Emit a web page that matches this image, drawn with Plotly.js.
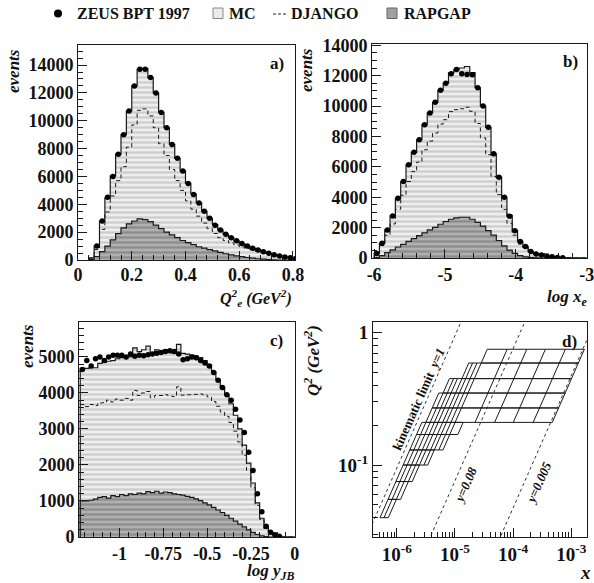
<!DOCTYPE html>
<html><head><meta charset="utf-8">
<script src="https://cdn.plot.ly/plotly-3.0.1.min.js"></script>
<style>html,body{margin:0;padding:0;background:#fff}#chart{width:594px;height:583px}</style>
</head><body><div id="chart"></div>
<script>
// ---------- panel a : Q2_e (GeV^2), bins of 0.02 starting at 0.04 ----------
const aBinStart = 0.04, aBinWidth = 0.02;
const aMC     = [150,1000,2800,4450,6050,7600,9000,10700,12500,13700,13750,13100,12000,10600,9500,8300,7300,6400,5500,4750,4100,3500,3000,2550,2150,1850,1600,1380,1180,1000,850,720,600,480,380,290,220,160,110];
const aRapgap = [20,250,600,1000,1450,1900,2300,2600,2800,2950,2900,2750,2500,2250,2000,1800,1600,1400,1250,1100,950,850,750,650,550,450,370,300,240,180,130,90,60,30,10,0,0,0,0];
const aDjango = [130,750,2200,3450,4600,5700,6700,8100,9700,10750,10850,10350,9500,8350,7500,6500,5700,5000,4250,3650,3150,2650,2250,1900,1600,1400,1230,1080,940,820,720,630,540,450,370,290,220,160,110];
const aData   = [null,1000,2800,4500,6000,7600,9000,10700,12500,13700,13700,13100,12000,10600,9500,8300,7300,6400,5500,4700,4100,3500,3000,2500,2150,1850,1600,1380,1180,1000,850,720,600,480,380,290,220,160,110];
const aYTicks = [0,2000,4000,6000,8000,10000,12000,14000];
const aXTicks = [0,0.2,0.4,0.6,0.8];
const aXTickText = ['0','0.2','0.4','0.6','0.8'];

// ---------- panel b : log x_e, bins of 0.075 starting at -6 ----------
const bBinStart = -6.0, bBinWidth = 0.075;
const bMC     = [300,970,1850,2770,3930,5030,6130,6950,7780,8770,9540,10240,11030,11500,12180,12400,12500,12600,12200,11200,10000,8600,6860,5320,4000,2800,1800,1080,750,420,260,200,130,90,40,20,10,0,0,0];
const bRapgap = [20,150,350,530,725,900,1100,1270,1470,1650,1850,2020,2220,2400,2550,2640,2680,2680,2550,2350,2100,1800,1500,1150,800,520,300,160,80,30,10,0,0,0,0,0,0,0,0,0];
const bDjango = [280,820,1500,2240,3205,4130,5030,5680,6310,7120,7690,8220,8810,9100,9630,9760,9820,9920,9650,8850,7900,6800,5360,4170,3200,2280,1500,920,670,390,250,200,130,90,40,20,10,0,0,0];
const bData   = [300,970,1850,2770,3930,5030,6130,6950,7780,8770,9540,10240,11030,11500,12130,12400,12130,12070,12050,11200,10000,8600,6860,5320,4000,2750,1800,1080,750,420,260,200,130,90,40,20,null,null,null,null];
const bYTicks = [0,2000,4000,6000,8000,10000,12000,14000];
const bXTicks = [-6,-5,-4,-3];
const bXTickText = ['-6','-5','-4','-3'];

// ---------- panel c : log y_JB, bins of 0.025 starting at -1.225 ----------
const cBinStart = -1.225, cBinWidth = 0.025;
const cMC     = [4680,4680,4700,4700,4820,4850,4880,4900,4950,4980,5000,5000,5250,5150,5200,5300,5100,5200,5150,5200,5150,5100,5350,5100,5080,5050,5020,4980,4900,4780,4580,4380,4150,3950,3700,3380,3000,2550,2050,1500,950,520,250,120,60,25,0,0,0];
const cRapgap = [1000,1000,1020,1050,1100,1120,1080,1150,1120,1180,1150,1200,1180,1220,1200,1260,1230,1270,1220,1250,1230,1200,1180,1160,1130,1100,1060,1010,950,890,820,750,680,600,520,440,360,280,200,130,70,30,10,0,0,0,0,0,0];
const cDjango = [3680,3620,3680,3650,3720,3730,3800,3750,3830,3800,3850,3800,4070,3930,4000,4040,3870,3930,3930,3950,3920,3900,4170,3940,3950,3950,3960,3970,3950,3890,3760,3630,3470,3350,3180,2940,2640,2270,1850,1370,880,490,240,120,60,25,0,0,0];
const cData   = [4650,4900,4750,4950,5000,4900,5000,5050,5050,5050,5000,5080,5020,5050,5030,5060,5080,5100,5120,5150,5170,5150,5080,4920,4950,5000,4980,4900,4830,4750,4570,4350,4150,3950,3800,3550,3250,2900,2350,1850,1200,700,300,130,60,20,null,null,null];
const cYTicks = [0,1000,2000,3000,4000,5000];
const cXTicks = [-1,-0.75,-0.5,-0.25,0];
const cXTickText = ['-1','-0.75','-0.5','-0.25','0'];

// ---------- panel d : bins in (x, Q2); Q2 rows and y-bin edges ----------
const dQ2Rows = [[0.04,0.055],[0.055,0.075],[0.075,0.10],[0.10,0.13],[0.13,0.17],[0.17,0.21],[0.21,0.27],[0.27,0.35],[0.35,0.45],[0.45,0.59],[0.59,0.75]];
const dYEdges = [
  [0.82,0.70,0.59],
  [0.82,0.70,0.59,0.50],
  [0.82,0.70,0.59,0.50,0.43],
  [0.82,0.70,0.59,0.50,0.43,0.36,0.31],
  [0.82,0.70,0.59,0.50,0.43,0.36,0.31,0.26,0.22],
  [0.82,0.70,0.59,0.50,0.43,0.36,0.31,0.26,0.22,0.16],
  [0.70,0.59,0.50,0.43,0.36,0.31,0.26,0.22,0.10,0.046,0.022,0.01,0.0047],
  [0.70,0.59,0.50,0.43,0.36,0.31,0.26,0.22,0.10,0.046,0.022,0.01,0.0047],
  [0.59,0.50,0.43,0.36,0.31,0.26,0.22,0.10,0.046,0.022,0.01,0.0047],
  [0.36,0.31,0.26,0.22,0.10,0.046,0.022,0.01,0.0047],
  [0.22,0.10,0.046,0.022,0.01,0.0047]
];
const dRefY = [1, 0.08, 0.005];
const sBeam = 95000;            // Q2 = s x y
const dXTicks = [1e-6,1e-5,1e-4,1e-3];
const dXTickText = ['10<sup>-6</sup>','10<sup>-5</sup>','10<sup>-4</sup>','10<sup>-3</sup>'];
const dYTicks = [0.1, 1];
const dYTickText = ['10<sup>-1</sup>','1'];

// ---------- helpers ----------
const W = 594, H = 583;
const px = v => v / W, py = v => 1 - v / H;
const FONT = 'Liberation Serif, Times New Roman, serif';

function edges(start, w, n) { const e = []; for (let i = 0; i <= n; i++) e.push(+(start + i * w).toFixed(5)); return e; }
function stepClosed(start, w, vals) {
  const e = edges(start, w, vals.length);
  const x = [e[0]], y = [0];
  vals.forEach((v, i) => { x.push(e[i]); y.push(v); });
  x.push(e[vals.length]); y.push(vals[vals.length - 1]);
  x.push(e[vals.length]); y.push(0);
  return {x, y};
}
function stepOpen(start, w, vals) {
  const e = edges(start, w, vals.length);
  const x = [], y = [];
  vals.forEach((v, i) => { x.push(e[i]); y.push(v); });
  x.push(e[vals.length]); y.push(vals[vals.length - 1]);
  return {x, y};
}
function histTraces(start, w, mc, dj, rap, dat, xa, ya) {
  const m = stepClosed(start, w, mc), r = stepClosed(start, w, rap), d = stepOpen(start, w, dj);
  const cx = dat.map((v, i) => start + w * (i + 0.5));
  return [
    {type:'scatter', mode:'lines', x:m.x, y:m.y, xaxis:xa, yaxis:ya, fill:'tozeroy',
     fillcolor:'#e6e6e6', fillpattern:{shape:'-', bgcolor:'#eeeeee', fgcolor:'#cdcdcd', size:5, solidity:0.45},
     line:{shape:'hv', color:'#1a1a1a', width:1.2}, hoverinfo:'skip'},
    {type:'scatter', mode:'lines', x:r.x, y:r.y, xaxis:xa, yaxis:ya, fill:'tozeroy',
     fillcolor:'#a9a9a9', fillpattern:{shape:'-', bgcolor:'#b0b0b0', fgcolor:'#8c8c8c', size:5, solidity:0.45},
     line:{shape:'hv', color:'#1a1a1a', width:1.2}, hoverinfo:'skip'},
    {type:'scatter', mode:'lines', x:d.x, y:d.y, xaxis:xa, yaxis:ya,
     line:{shape:'hv', color:'#1a1a1a', width:1, dash:'4px,3px'}, hoverinfo:'skip'},
    {type:'scatter', mode:'markers', x:cx, y:dat, xaxis:xa, yaxis:ya,
     marker:{color:'#000', size:5.5, symbol:'circle'}, hoverinfo:'skip'}
  ];
}

let traces = [];
traces = traces.concat(histTraces(aBinStart, aBinWidth, aMC, aDjango, aRapgap, aData, 'x', 'y'));
traces = traces.concat(histTraces(bBinStart, bBinWidth, bMC, bDjango, bRapgap, bData, 'x2', 'y2'));
traces = traces.concat(histTraces(cBinStart, cBinWidth, cMC, cDjango, cRapgap, cData, 'x3', 'y3'));

// panel d grid
const gx = [], gy = [];
dQ2Rows.forEach((row, r) => {
  const ql = row[0], qh = row[1], ys = dYEdges[r];
  const yFirst = ys[0], yLast = ys[ys.length - 1];
  [ql, qh].forEach(q => { gx.push(q / (sBeam * yFirst), q / (sBeam * yLast), null); gy.push(q, q, null); });
  ys.forEach(yv => { gx.push(ql / (sBeam * yv), qh / (sBeam * yv), null); gy.push(ql, qh, null); });
});
traces.push({type:'scatter', mode:'lines', x:gx, y:gy, xaxis:'x4', yaxis:'y4',
  line:{color:'#1a1a1a', width:1}, connectgaps:false, hoverinfo:'skip'});
dRefY.forEach(yv => {
  const qs = [0.02, 1.5];
  traces.push({type:'scatter', mode:'lines', x:qs.map(q => q / (sBeam * yv)), y:qs, xaxis:'x4', yaxis:'y4',
    line:{color:'#333', width:1, dash:'dot'}, hoverinfo:'skip'});
});

// ---------- layout ----------
const tickFont = {family:FONT, size:18, color:'#111', weight:'bold'};
function baseAxis(extra) {
  return Object.assign({
    showline:true, mirror:true, linecolor:'#1a1a1a', linewidth:1, showgrid:false, zeroline:false,
    ticks:'inside', ticklen:9, tickwidth:1, tickcolor:'#1a1a1a', tickfont:tickFont, fixedrange:true,
    ticklabeloverflow:'allow'
  }, extra);
}
function minorLin(tick0, dtick) { return {ticks:'inside', ticklen:5, tickwidth:1, tickcolor:'#1a1a1a', tickmode:'linear', tick0:tick0, dtick:dtick}; }
function decadeMinors(lo, hi) { const v = []; for (let p = lo; p <= hi; p++) for (let k = 2; k <= 9; k++) v.push(k * Math.pow(10, p)); return v; }
const asText = arr => arr.map(v => String(v));

const layout = {
  width:W, height:H, margin:{l:0, r:0, t:0, b:0}, showlegend:false,
  paper_bgcolor:'#fff', plot_bgcolor:'#fff',
  xaxis: baseAxis({domain:[px(78), px(295)], range:[0, 0.8075], anchor:'y', ticklabelstandoff:-2,
    tickmode:'array', tickvals:aXTicks, ticktext:aXTickText, minor:minorLin(0, 0.04)}),
  yaxis: baseAxis({domain:[py(260), py(45)], range:[0, 15440], anchor:'x',
    tickmode:'array', tickvals:aYTicks, ticktext:asText(aYTicks), minor:minorLin(0, 500)}),
  xaxis2: baseAxis({domain:[px(372), px(587)], range:[-6.03, -2.995], anchor:'y2',
    tickmode:'array', tickvals:bXTicks, ticktext:bXTickText, minor:minorLin(0, 0.2)}),
  yaxis2: baseAxis({domain:[py(258), py(44)], range:[0, 14080], anchor:'x2',
    tickmode:'array', tickvals:bYTicks, ticktext:asText(bYTicks), minor:minorLin(0, 500)}),
  xaxis3: baseAxis({domain:[px(79), px(295)], range:[-1.232, 0.002], anchor:'y3',
    tickmode:'array', tickvals:cXTicks, ticktext:cXTickText, minor:minorLin(0, 0.05)}),
  yaxis3: baseAxis({domain:[py(537), py(322)], range:[0, 5970], anchor:'x3',
    tickmode:'array', tickvals:cYTicks, ticktext:asText(cYTicks), minor:minorLin(0, 200)}),
  xaxis4: baseAxis({domain:[px(373), px(587)], type:'log', range:[-6.41, -2.73], anchor:'y4',
    tickmode:'array', tickvals:dXTicks, ticktext:dXTickText, tickfont:{family:FONT, size:19, color:'#111', weight:'bold'},
    minor:{ticks:'inside', ticklen:5, tickwidth:1, tickcolor:'#1a1a1a', tickmode:'array', tickvals:decadeMinors(-7, -3)}}),
  yaxis4: baseAxis({domain:[py(537), py(322)], type:'log', range:[-1.544, 0.081], anchor:'x4',
    tickmode:'array', tickvals:dYTicks, ticktext:dYTickText, tickfont:{family:FONT, size:19, color:'#111', weight:'bold'},
    minor:{ticks:'inside', ticklen:5, tickwidth:1, tickcolor:'#1a1a1a', tickmode:'array', tickvals:decadeMinors(-2, 0)}}),
  shapes: [
    {type:'circle', xref:'paper', yref:'paper', x0:px(54), x1:px(62), y0:py(17.5), y1:py(9.5), fillcolor:'#000', line:{color:'#000', width:0}},
    {type:'rect', xref:'paper', yref:'paper', x0:px(213), x1:px(223), y0:py(18.5), y1:py(8), fillcolor:'#ececec', line:{color:'#888', width:1}},
    {type:'line', xref:'paper', yref:'paper', x0:px(273), x1:px(287), y0:py(14), y1:py(14), line:{color:'#222', width:1, dash:'3px,2px'}},
    {type:'rect', xref:'paper', yref:'paper', x0:px(387), x1:px(397), y0:py(18.5), y1:py(8), fillcolor:'#a0a0a0', line:{color:'#666', width:1}}
  ],
  annotations: []
};

function ann(text, x, y, opts) {
  layout.annotations.push(Object.assign({text:text, x:px(x), y:py(y), xref:'paper', yref:'paper', showarrow:false,
    xanchor:'center', yanchor:'middle', font:{family:FONT, size:17, color:'#111', weight:'bold'}}, opts || {}));
}
const italicFont = s => ({family:FONT, size:s, color:'#111', weight:'bold', style:'italic'});
const legFont = {family:FONT, size:16, color:'#111', weight:'bold'};
// legend
ann('ZEUS BPT 1997', 75, 13.5, {xanchor:'left', font:legFont});
ann('MC', 227, 13.5, {xanchor:'left', font:legFont});
ann('DJANGO', 289, 13.5, {xanchor:'left', font:legFont});
ann('RAPGAP', 402, 13.5, {xanchor:'left', font:legFont});
// panel labels
ann('a)', 277, 63); ann('b)', 570, 61); ann('c)', 276, 340); ann('d)', 569, 341);
// axis titles
ann('events', 13, 71, {textangle:-90, font:italicFont(17)});
ann('events', 307, 70, {textangle:-90, font:italicFont(17)});
ann('events', 27, 346, {textangle:-90, font:italicFont(17)});
ann('Q<sup>2</sup><sub>e</sub> (GeV<sup>2</sup>)', 294, 298, {xanchor:'right', font:italicFont(16)});
ann('log x<sub>e</sub>', 589, 298, {xanchor:'right', font:italicFont(17)});
ann('log y<sub>JB</sub>', 296, 572, {xanchor:'right', font:italicFont(17)});
ann('x', 585, 572, {font:italicFont(19)});
ann('Q<sup>2</sup> (GeV<sup>2</sup>)', 312, 361, {textangle:-90, font:italicFont(17)});
// panel d line labels
ann('kinematic limit  <i>y=1</i>', 418, 399, {textangle:-66, font:{family:FONT, size:13, color:'#111', weight:'bold'}});
ann('y=0.08', 465, 485, {textangle:-66, font:italicFont(13)});
ann('y=0.005', 538, 483, {textangle:-66, font:italicFont(13)});

Plotly.newPlot('chart', traces, layout, {staticPlot:true, displayModeBar:false});
</script>
</body></html>
